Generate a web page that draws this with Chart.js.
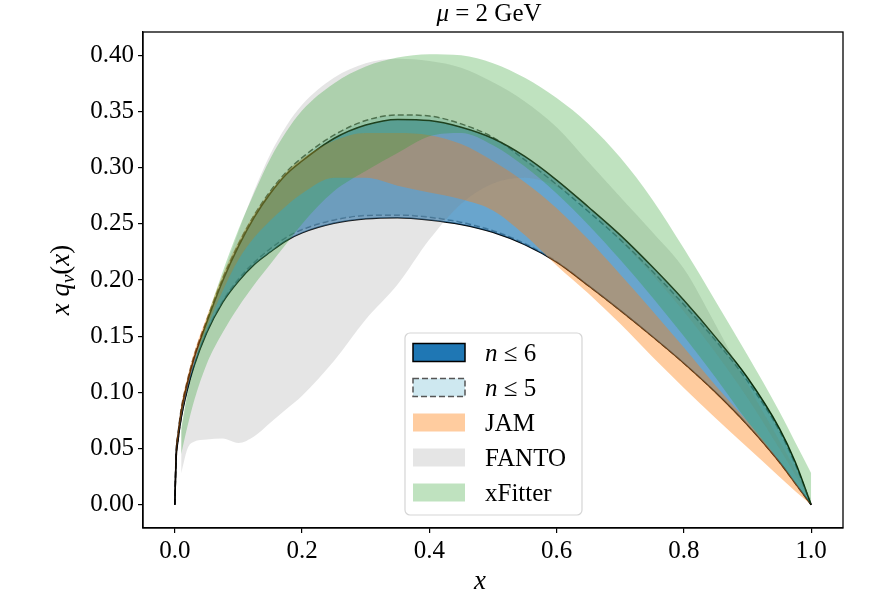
<!DOCTYPE html>
<html>
<head>
<meta charset="utf-8">
<script src="https://cdn.jsdelivr.net/npm/chart.js@4.4.0/dist/chart.umd.min.js"></script>
<style>
  html, body { margin: 0; padding: 0; background: #fff; }
  #wrap { width: 890px; height: 595px; }
</style>
</head>
<body>
<div id="wrap"><canvas id="pdf" width="890" height="595"></canvas></div>
<script>
// x grid for the n<=6, n<=5 and JAM bands
const xGrid = [0, 0.002, 0.005, 0.01, 0.02, 0.03, 0.05, 0.075, 0.1, 0.125, 0.15, 0.175, 0.2,
  0.25, 0.3, 0.35, 0.4, 0.45, 0.5, 0.55, 0.6, 0.65, 0.7, 0.75, 0.8, 0.85, 0.9, 0.95, 0.975, 1.0];

const n6Upper = [0, 0.044, 0.062, 0.083, 0.109, 0.13, 0.162, 0.199, 0.23, 0.256, 0.277, 0.294, 0.306,
  0.326, 0.338, 0.343, 0.342, 0.336, 0.326, 0.31, 0.289, 0.265, 0.24, 0.212, 0.182, 0.149, 0.113, 0.068, 0.038, 0];
const n6Lower = [0, 0.04, 0.057, 0.077, 0.103, 0.123, 0.153, 0.18, 0.199, 0.214, 0.225, 0.235, 0.242,
  0.2505, 0.2545, 0.2555, 0.2535, 0.2495, 0.2425, 0.2315, 0.216, 0.195, 0.173, 0.15, 0.126, 0.1, 0.071, 0.038, 0.019, 0];

const n5Upper = [0, 0.045, 0.063, 0.085, 0.111, 0.132, 0.164, 0.201, 0.232, 0.258, 0.279, 0.296, 0.309,
  0.329, 0.342, 0.347, 0.346, 0.339, 0.327, 0.307, 0.285, 0.261, 0.236, 0.208, 0.178, 0.146, 0.11, 0.066, 0.036, 0];
const n5Lower = [0, 0.041, 0.058, 0.078, 0.104, 0.124, 0.154, 0.181, 0.201, 0.216, 0.228, 0.238, 0.245,
  0.2535, 0.2575, 0.258, 0.256, 0.2515, 0.244, 0.2325, 0.2165, 0.195, 0.173, 0.15, 0.126, 0.1, 0.071, 0.038, 0.019, 0];

const jamUpper = [0, 0.047, 0.066, 0.088, 0.114, 0.135, 0.167, 0.204, 0.234, 0.259, 0.279, 0.296, 0.308,
  0.324, 0.331, 0.331, 0.329, 0.321, 0.306, 0.287, 0.264, 0.236, 0.205, 0.173, 0.14, 0.106, 0.074, 0.039, 0.02, 0];
const jamLower = [0, 0.041, 0.058, 0.078, 0.105, 0.126, 0.157, 0.19, 0.218, 0.238, 0.253, 0.266, 0.277,
  0.291, 0.291, 0.284, 0.278, 0.272, 0.262, 0.24, 0.213, 0.188, 0.161, 0.132, 0.104, 0.077, 0.051, 0.025, 0.012, 0];

// FANTO and xFitter start at x = 0.01
const xGridExt = [0.01, 0.02, 0.03, 0.05, 0.075, 0.1, 0.125, 0.15, 0.175, 0.2, 0.25, 0.3, 0.35, 0.4,
  0.45, 0.5, 0.55, 0.6, 0.65, 0.7, 0.75, 0.8, 0.85, 0.9, 0.95, 0.98, 1.0];

const fantoUpper = [0.065, 0.098, 0.122, 0.16, 0.203, 0.243, 0.28, 0.312, 0.337, 0.356, 0.38, 0.393, 0.397,
  0.395, 0.389, 0.376, 0.359, 0.336, 0.305, 0.274, 0.243, 0.21, 0.16, 0.107, 0.057, 0.026, 0.005];
const fantoLower = [0.028, 0.05, 0.056, 0.058, 0.059, 0.055, 0.061, 0.073, 0.085, 0.097, 0.128, 0.165, 0.196,
  0.236, 0.268, 0.286, 0.291, 0.283, 0.262, 0.235, 0.205, 0.172, 0.135, 0.095, 0.05, 0.022, 0.003];

const xfUpper = [0.068, 0.1, 0.124, 0.165, 0.207, 0.245, 0.278, 0.308, 0.332, 0.351, 0.375, 0.39, 0.398,
  0.401, 0.4, 0.393, 0.38, 0.362, 0.339, 0.309, 0.272, 0.228, 0.181, 0.133, 0.083, 0.05, 0.028];
const xfLower = [0.045, 0.07, 0.092, 0.125, 0.153, 0.176, 0.196, 0.214, 0.232, 0.25, 0.279, 0.297, 0.313,
  0.328, 0.331, 0.32, 0.301, 0.277, 0.249, 0.218, 0.185, 0.15, 0.113, 0.074, 0.039, 0.016, 0];

const xTicks = [0, 0.2, 0.4, 0.6, 0.8, 1.0];
const yTicks = [0, 0.05, 0.1, 0.15, 0.2, 0.25, 0.3, 0.35, 0.4];

const legendLabels = ["n ≤ 6", "n ≤ 5", "JAM", "FANTO", "xFitter"];
const legendFill = ["#1f77b4", "rgba(173,216,230,0.6)", "rgba(255,127,14,0.4)", "rgba(127,127,127,0.2)", "rgba(44,160,44,0.3)"];

const SERIF = "'Liberation Serif', 'DejaVu Serif', serif";

function pts(xs, ys) {
  return xs.map((x, i) => ({ x: x, y: ys[i] }));
}

// one band = upper edge (filled down to lower) + lower edge
function band(upper, lower, xs, idx, fill, edge, dash, order) {
  const w = edge ? 1.5 : 0;
  const c = edge || "transparent";
  return [
    { data: pts(xs, upper), fill: idx + 1, backgroundColor: fill, borderColor: c, borderWidth: w,
      borderDash: dash, order: order },
    { data: pts(xs, lower), fill: false, borderColor: c, borderWidth: w, borderDash: dash, order: order }
  ];
}

const datasets = [];
datasets.push(...band(xfUpper, xfLower, xGridExt, datasets.length, "rgba(44,160,44,0.3)", null, [], 1));
datasets.push(...band(fantoUpper, fantoLower, xGridExt, datasets.length, "rgba(127,127,127,0.2)", null, [], 2));
datasets.push(...band(jamUpper, jamLower, xGrid, datasets.length, "rgba(255,127,14,0.4)", null, [], 3));
datasets.push(...band(n6Upper, n6Lower, xGrid, datasets.length, "rgba(31,119,180,0.6)", "#000", [], 4));
datasets.push(...band(n5Upper, n5Lower, xGrid, datasets.length, "rgba(173,216,230,0.5)", "#555", [6, 3], 5));

function drawParts(ctx, parts, x, y, align) {
  // parts: [text, italic, size, dy]
  let total = 0;
  parts.forEach(p => {
    ctx.font = (p[1] ? "italic " : "") + p[2] + "px " + SERIF;
    total += ctx.measureText(p[0]).width;
  });
  let cx = align === "center" ? x - total / 2 : x;
  ctx.textAlign = "left";
  parts.forEach(p => {
    ctx.font = (p[1] ? "italic " : "") + p[2] + "px " + SERIF;
    ctx.fillText(p[0], cx, y + (p[3] || 0));
    cx += ctx.measureText(p[0]).width;
  });
}

const decorations = {
  id: "decorations",
  afterDraw(chart) {
    const ctx = chart.ctx;
    const a = chart.chartArea;
    ctx.save();
    // axes frame
    ctx.strokeStyle = "#000";
    ctx.lineWidth = 1.3;
    ctx.strokeRect(a.left, a.top, a.right - a.left, a.bottom - a.top);

    ctx.fillStyle = "#000";
    ctx.textBaseline = "alphabetic";
    // title
    drawParts(ctx, [["μ", true, 25], [" = 2 GeV", false, 25]], 489, 21, "center");
    // x label
    drawParts(ctx, [["x", true, 27]], 480, 589, "center");
    // y label
    ctx.save();
    ctx.translate(69, (a.top + a.bottom) / 2);
    ctx.rotate(-Math.PI / 2);
    drawParts(ctx, [["x", true, 27], [" q", true, 27], ["v", true, 19, 5], ["(", false, 27], ["x", true, 27], [")", false, 27]], 0, 0, "center");
    ctx.restore();

    // legend
    const lx = 405, ly = 333, lw = 177, lh = 182;
    ctx.beginPath();
    ctx.roundRect(lx, ly, lw, lh, 5);
    ctx.fillStyle = "rgba(255,255,255,0.8)";
    ctx.fill();
    ctx.strokeStyle = "#d5d5d5";
    ctx.lineWidth = 1.2;
    ctx.stroke();
    legendLabels.forEach((lab, i) => {
      const cy = 352.5 + i * 35;
      ctx.fillStyle = "#fff";
      ctx.fillRect(413, cy - 9, 52, 18);
      ctx.fillStyle = legendFill[i];
      ctx.fillRect(413, cy - 9, 52, 18);
      if (i === 0) {
        ctx.strokeStyle = "#000";
        ctx.lineWidth = 1.5;
        ctx.setLineDash([]);
        ctx.strokeRect(413, cy - 9, 52, 18);
      } else if (i === 1) {
        ctx.strokeStyle = "#555";
        ctx.lineWidth = 1.5;
        ctx.setLineDash([6, 3]);
        ctx.strokeRect(413, cy - 9, 52, 18);
        ctx.setLineDash([]);
      }
      ctx.fillStyle = "#000";
      if (lab.startsWith("n")) {
        drawParts(ctx, [["n", true, 25], [lab.slice(1), false, 25]], 485, cy + 8, "left");
      } else {
        drawParts(ctx, [[lab, false, 25]], 485, cy + 8, "left");
      }
    });
    ctx.restore();
  }
};

new Chart(document.getElementById("pdf"), {
  type: "line",
  data: { datasets: datasets },
  options: {
    responsive: false,
    animation: false,
    events: [],
    layout: { padding: { top: 32, right: 47, bottom: 0, left: 0 } },
    elements: {
      point: { radius: 0 },
      line: { cubicInterpolationMode: "monotone" }
    },
    plugins: {
      legend: { display: false },
      tooltip: { enabled: false },
      filler: { propagate: false }
    },
    scales: {
      x: {
        type: "linear",
        min: -0.05,
        max: 1.05,
        afterBuildTicks: s => { s.ticks = xTicks.map(v => ({ value: v })); },
        afterFit: s => { s.height = 67; },
        ticks: {
          color: "#000",
          padding: 3,
          maxRotation: 0,
          font: { family: SERIF, size: 25 },
          callback: v => v.toFixed(1)
        },
        grid: { drawOnChartArea: false, drawTicks: true, tickLength: 5, color: "#000", lineWidth: 1.2 },
        border: { display: true, color: "#000", width: 1.3 }
      },
      y: {
        type: "linear",
        min: -0.0207,
        max: 0.4208,
        afterBuildTicks: s => { s.ticks = yTicks.map(v => ({ value: v })); },
        afterFit: s => { s.width = 143; },
        ticks: {
          color: "#000",
          padding: 4,
          font: { family: SERIF, size: 25 },
          callback: v => v.toFixed(2)
        },
        grid: { drawOnChartArea: false, drawTicks: true, tickLength: 5, color: "#000", lineWidth: 1.2 },
        border: { display: true, color: "#000", width: 1.3 }
      }
    }
  },
  plugins: [decorations]
});
</script>
</body>
</html>
